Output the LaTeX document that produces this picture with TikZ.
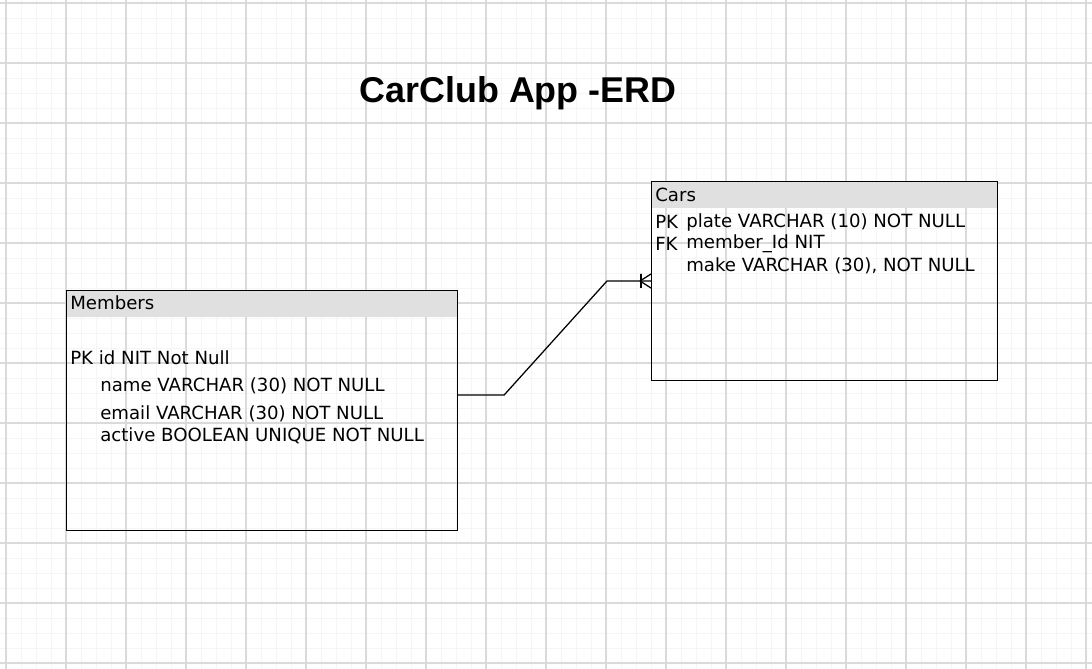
\documentclass[tikz,border=0pt]{standalone}
\usepackage{fontspec}
\setmainfont{DejaVu Sans}
\newfontfamily\titlefont{Liberation Sans}
\usetikzlibrary{positioning}

\definecolor{gridminor}{HTML}{F5F5F5}
\definecolor{gridmajor}{HTML}{DADADA}
\definecolor{headgray}{HTML}{E0E0E0}

\begin{document}
\begin{tikzpicture}[
  x=0.025cm, y=-0.025cm,
  table/.style={draw,line width=0.8pt,anchor=north west,inner sep=0pt},
  tablehead/.style={fill=headgray,anchor=north west,inner sep=0pt,minimum height=27*0.025cm},
  field/.style={anchor=west,inner sep=0pt,font=\fontsize{12.9}{15}\selectfont},
  rel/.style={line width=0.9pt}
]
  \useasboundingbox (0,0) rectangle (1092,669);
  \fill[white] (0,0) rectangle (1092,669);

  % background grid
  \foreach \x in {6,21,...,1092} \draw[gridminor,line width=0.7pt] (\x,0) -- (\x,669);
  \foreach \y in {3,18,...,669} \draw[gridminor,line width=0.7pt] (0,\y) -- (1092,\y);
  \foreach \x in {6,66,...,1092} \draw[gridmajor,line width=0.8pt] (\x,0) -- (\x,669);
  \foreach \y in {3,63,...,669} \draw[gridmajor,line width=0.8pt] (0,\y) -- (1092,\y);

  % title
  \node[font=\titlefont\bfseries\fontsize{25.5}{30}\selectfont] (title) at (518,93) {CarClub App -ERD};

  % Members table
  \node[tablehead,minimum width=391*0.025cm] (membershead) at (66,290) {};
  \node[table,minimum width=391*0.025cm,minimum height=240*0.025cm] (members) at (66,290) {};
  \node[field] (membersname) at (70,303) {Members};
  \node[field] (memberspk) at (70,358) {PK id NIT Not Null};
  \node[field] (membersf1) at (100,386) {name VARCHAR (30) NOT NULL};
  \node[field] (membersf2) at (100,414) {email VARCHAR (30) NOT NULL};
  \node[field] (membersf3) at (100,436) {active BOOLEAN UNIQUE NOT NULL};

  % Cars table
  \node[tablehead,minimum width=346*0.025cm] (carshead) at (651,181) {};
  \node[table,minimum width=346*0.025cm,minimum height=199*0.025cm] (cars) at (651,181) {};
  \node[field] (carsname) at (655,195) {Cars};
  \node[field] (carspk) at (655,222) {PK};
  \node[field] (carsfk) at (655,244) {FK};
  \node[field] (carsf1) at (686,222) {plate VARCHAR (10) NOT NULL};
  \node[field] (carsf2) at (686,244) {member\_Id NIT};
  \node[field] (carsf3) at (686,266) {make VARCHAR (30), NOT NULL};

  % relation members -> cars (one or many)
  \coordinate (m1) at (members.east |- 0,395);
  \coordinate (c1) at (cars.west |- 0,281);
  \draw[rel] (m1) -- ++(46,0) -- (607,281) -- (c1);
  \draw[rel] ([xshift=-10*0.025cm]c1) -- ++(0,-7) -- ++(0,14);
  \draw[rel] ([xshift=-11*0.025cm]c1) -- ([yshift=7*0.025cm]c1)
             ([xshift=-11*0.025cm]c1) -- ([yshift=-7*0.025cm]c1);
\end{tikzpicture}
\end{document}
